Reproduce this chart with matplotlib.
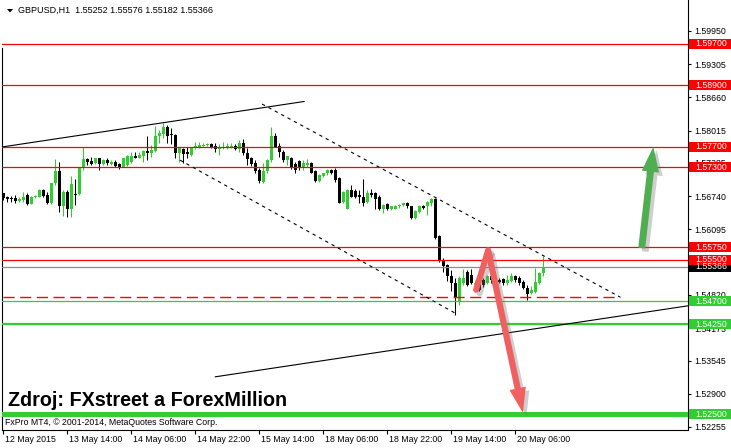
import matplotlib
matplotlib.use("Agg")
import matplotlib.pyplot as plt
import matplotlib.transforms as mtransforms
import matplotlib.patheffects as pe
from matplotlib.patches import Rectangle, Polygon
import numpy as np

plt.rcParams['font.family'] = ['Liberation Sans', 'DejaVu Sans']

# ---------------- data (GBPUSD H1) ----------------
opens = [
    1.5680, 1.5672, 1.5669, 1.5671, 1.5665, 1.5667, 1.5676, 1.5659, 1.5672, 1.5673,
    1.5686, 1.5676, 1.5660, 1.5699, 1.5723, 1.5655, 1.5683, 1.5649, 1.5679, 1.5678,
    1.5728, 1.5746, 1.5743, 1.5738, 1.5748, 1.5737, 1.5744, 1.5737, 1.5741, 1.5737,
    1.5731, 1.5735, 1.5741, 1.5752, 1.5749, 1.5752, 1.5762, 1.5757, 1.5762, 1.5790,
    1.5795, 1.5808, 1.5793, 1.5793, 1.5757, 1.5765, 1.5759, 1.5754, 1.5767, 1.5769,
    1.5772, 1.5773, 1.5775, 1.5772, 1.5765, 1.5767, 1.5767, 1.5769, 1.5772, 1.5765,
    1.5777, 1.5757, 1.5748, 1.5738, 1.5724, 1.5702, 1.5722, 1.5744, 1.5790, 1.5772,
    1.5760, 1.5744, 1.5748, 1.5737, 1.5743, 1.5730, 1.5735, 1.5739, 1.5722, 1.5704,
    1.5713, 1.5719, 1.5725, 1.5724, 1.5709, 1.5663, 1.5650, 1.5686, 1.5685, 1.5676,
    1.5673, 1.5663, 1.5681, 1.5680, 1.5673, 1.5649, 1.5659, 1.5649, 1.5650, 1.5654,
    1.5657, 1.5661, 1.5654, 1.5631, 1.5644, 1.5655, 1.5654, 1.5661, 1.5668, 1.5597,
    1.5550, 1.5540, 1.5518, 1.5506, 1.5469, 1.5505, 1.5526, 1.5521, 1.5501, 1.5508,
    1.5511, 1.5505, 1.5518, 1.5515, 1.5511, 1.5513, 1.5505, 1.5510, 1.5518, 1.5515,
    1.5508, 1.5495, 1.5485, 1.5488, 1.5505, 1.55252,
]
highs = [
    1.5681, 1.5674, 1.5674, 1.5676, 1.5672, 1.5683, 1.5680, 1.5674, 1.5676, 1.5687,
    1.5687, 1.5683, 1.5700, 1.5746, 1.5741, 1.5686, 1.5686, 1.5713, 1.5707, 1.5729,
    1.5769, 1.5749, 1.5751, 1.5749, 1.5749, 1.5746, 1.5748, 1.5744, 1.5744, 1.5739,
    1.5749, 1.5754, 1.5759, 1.5760, 1.5759, 1.5764, 1.5790, 1.5774, 1.5810, 1.5803,
    1.5817, 1.5812, 1.5806, 1.5795, 1.5769, 1.5767, 1.5769, 1.5770, 1.5779, 1.5780,
    1.5778, 1.5778, 1.5777, 1.5777, 1.5775, 1.5779, 1.5777, 1.5777, 1.5775, 1.5783,
    1.5785, 1.5767, 1.5751, 1.5744, 1.5728, 1.5738, 1.5746, 1.5809, 1.5797, 1.5777,
    1.5764, 1.5753, 1.5751, 1.5741, 1.5744, 1.5744, 1.5746, 1.5741, 1.5725, 1.5717,
    1.5720, 1.5726, 1.5726, 1.5728, 1.5712, 1.5685, 1.5688, 1.5696, 1.5687, 1.5686,
    1.5707, 1.5686, 1.5687, 1.5683, 1.5676, 1.5659, 1.5660, 1.5655, 1.5656, 1.5659,
    1.5661, 1.5663, 1.5655, 1.5647, 1.5657, 1.5657, 1.5665, 1.5670, 1.5670, 1.5599,
    1.5553, 1.5542, 1.5531, 1.5515, 1.5518, 1.5532, 1.5530, 1.5532, 1.5511, 1.5511,
    1.5515, 1.5521, 1.5519, 1.5518, 1.5515, 1.5515, 1.5521, 1.5524, 1.5521, 1.5518,
    1.5511, 1.5501, 1.5499, 1.5534, 1.5527, 1.55576,
]
lows = [
    1.5667, 1.5663, 1.5663, 1.5661, 1.5663, 1.5663, 1.5657, 1.5658, 1.5670, 1.5672,
    1.5673, 1.5659, 1.5659, 1.5696, 1.5644, 1.5636, 1.5633, 1.5633, 1.5657, 1.5676,
    1.5725, 1.5735, 1.5735, 1.5737, 1.5725, 1.5735, 1.5735, 1.5735, 1.5731, 1.5726,
    1.5730, 1.5733, 1.5738, 1.5748, 1.5748, 1.5741, 1.5744, 1.5751, 1.5760, 1.5777,
    1.5787, 1.5777, 1.5775, 1.5748, 1.5741, 1.5738, 1.5748, 1.5752, 1.5765, 1.5767,
    1.5770, 1.5772, 1.5768, 1.5760, 1.5754, 1.5765, 1.5765, 1.5767, 1.5764, 1.5760,
    1.5754, 1.5735, 1.5733, 1.5720, 1.5700, 1.5700, 1.5719, 1.5741, 1.5769, 1.5751,
    1.5741, 1.5735, 1.5726, 1.5719, 1.5725, 1.5725, 1.5730, 1.5719, 1.5702, 1.5702,
    1.5712, 1.5715, 1.5717, 1.5702, 1.5660, 1.5660, 1.5649, 1.5672, 1.5670, 1.5661,
    1.5655, 1.5661, 1.5672, 1.5650, 1.5647, 1.5641, 1.5647, 1.5647, 1.5649, 1.5652,
    1.5655, 1.5652, 1.5629, 1.5629, 1.5642, 1.5649, 1.5637, 1.5654, 1.5590, 1.5547,
    1.5527, 1.5510, 1.5489, 1.5443, 1.5463, 1.5501, 1.5499, 1.5503, 1.5490, 1.5490,
    1.5498, 1.5503, 1.5505, 1.5501, 1.5505, 1.5501, 1.5501, 1.5508, 1.5508, 1.5501,
    1.5493, 1.5472, 1.5484, 1.5485, 1.5503, 1.55182,
]
closes = [
    1.5670, 1.5668, 1.5668, 1.5665, 1.5669, 1.5672, 1.5658, 1.5673, 1.5674, 1.5686,
    1.5674, 1.5660, 1.5699, 1.5723, 1.5655, 1.5683, 1.5649, 1.5698, 1.5677, 1.5728,
    1.5746, 1.5740, 1.5737, 1.5748, 1.5737, 1.5744, 1.5738, 1.5741, 1.5733, 1.5730,
    1.5748, 1.5752, 1.5752, 1.5749, 1.5755, 1.5762, 1.5757, 1.5764, 1.5791, 1.5797,
    1.5809, 1.5791, 1.5792, 1.5757, 1.5767, 1.5756, 1.5756, 1.5769, 1.5772, 1.5774,
    1.5774, 1.5774, 1.5770, 1.5765, 1.5769, 1.5769, 1.5772, 1.5772, 1.5765, 1.5777,
    1.5757, 1.5746, 1.5737, 1.5722, 1.5704, 1.5722, 1.5744, 1.5790, 1.5770, 1.5760,
    1.5744, 1.5752, 1.5730, 1.5725, 1.5728, 1.5738, 1.5739, 1.5720, 1.5704, 1.5715,
    1.5719, 1.5725, 1.5719, 1.5705, 1.5661, 1.5683, 1.5686, 1.5673, 1.5673, 1.5672,
    1.5660, 1.5680, 1.5676, 1.5668, 1.5650, 1.5657, 1.5649, 1.5654, 1.5655, 1.5657,
    1.5660, 1.5654, 1.5631, 1.5646, 1.5655, 1.5652, 1.5663, 1.5668, 1.5592, 1.5550,
    1.5538, 1.5518, 1.5506, 1.5478, 1.5515, 1.5515, 1.5501, 1.5505, 1.5506, 1.5492,
    1.5501, 1.5518, 1.5511, 1.5508, 1.5508, 1.5505, 1.5511, 1.5518, 1.5511, 1.5505,
    1.5495, 1.5484, 1.5492, 1.5508, 1.5524, 1.55366,
]

time_labels = ["12 May 2015", "13 May 14:00", "14 May 06:00", "14 May 22:00",
               "15 May 14:00", "18 May 06:00", "18 May 22:00", "19 May 14:00",
               "20 May 06:00"]
time_label_bars = [0, 16, 32, 48, 64, 80, 96, 112, 128]

price_ticks = [1.59950, 1.59305, 1.58660, 1.58015, 1.57385, 1.56740, 1.56095,
               1.55450, 1.54820, 1.54175, 1.53545, 1.52900, 1.52255]
hidden_ticks = [1.55450]   # covered by the price boxes in the reference

red_levels = [1.5970, 1.5890, 1.5770, 1.5730, 1.5575, 1.5550]
green_levels = [1.5470, 1.5425, 1.5250]
current_price = 1.55366
dashed_level = 1.5478

# trend lines: (bar, price) pairs
upper_solid = [(0.0, 1.5770), (75.2, 1.5858)]
upper_dashed = [(64.7, 1.5853), (154.2, 1.5478)]
lower_dashed = [(44.2, 1.5744), (112.9, 1.5447)]
lower_solid = [(53.0, 1.5323), (171.2, 1.5461)]

green_arrow = [(159.6, 1.5573), (162.5, 1.5770)]        # tail, tip
red_arrow = [(118.2, 1.5492), (121.2, 1.5569), (129.9, 1.5253)]  # start, peak, tip

# ---------------- figure ----------------
W, H = 731, 448
fig = plt.figure(figsize=(W / 100, H / 100), dpi=100)
fig.patch.set_facecolor('white')

GREEN = '#32cd32'
RED = '#ff0000'

y_top = 1.605524
px_price = 1.0 / 5146.0
y_bot = y_top - 430 * px_price

ax = fig.add_axes([2 / W, (H - 430) / H, 686 / W, 430 / H])
ax.set_facecolor('white')
ax.set_xlim((2 - 3.3) / 4, (688 - 3.3) / 4)
ax.set_ylim(y_bot, y_top)

o = np.array(opens); h = np.array(highs); l = np.array(lows); c = np.array(closes)
x = np.arange(len(o))
up = c > o
cols = [GREEN if u else 'black' for u in up]
ax.vlines(x, l, h, colors=cols, linewidth=0.75, zorder=2)
body_b = np.minimum(o, c)
body_h = np.maximum(np.abs(c - o), px_price * 1.0)
ax.bar(x, body_h, bottom=body_b, width=0.75, color=cols, linewidth=0, zorder=2)

# horizontal levels
for lv in red_levels:
    ax.axhline(lv, color=RED, lw=0.9, zorder=3)
ax.axhline(current_price, color='#8c8c8c', lw=0.9, zorder=3)
ax.axhline(green_levels[0], color=GREEN, lw=0.9, zorder=3)
ax.axhline(green_levels[1], color=GREEN, lw=1.6, zorder=3)
ax.axhline(green_levels[2], color=GREEN, lw=3.6, zorder=3)
ax.plot([0, upper_dashed[1][0]], [dashed_level, dashed_level], color=RED, lw=1.0,
        dashes=(8, 4), zorder=3)

# trend lines
for seg in [upper_solid, lower_solid]:
    ax.plot([p[0] for p in seg], [p[1] for p in seg], color='black', lw=0.8, zorder=3)
for seg in [upper_dashed, lower_dashed]:
    ax.plot([p[0] for p in seg], [p[1] for p in seg], color='black', lw=0.8,
            dashes=(3, 3.5), zorder=3)

# arrows
shadow_patch = [pe.SimplePatchShadow(offset=(2.5, -2.5), shadow_rgbFace='0.45', alpha=0.35), pe.Normal()]
ga = ax.annotate('', xy=green_arrow[1], xytext=green_arrow[0],
                 arrowprops=dict(arrowstyle='simple,head_length=1.8,head_width=1.25,tail_width=0.5',
                                 fc='#4fae4f', ec='none', mutation_scale=10,
                                 shrinkA=0, shrinkB=0), zorder=6)
ga.arrow_patch.set_path_effects(shadow_patch)

ax.plot([red_arrow[0][0], red_arrow[1][0]], [red_arrow[0][1], red_arrow[1][1]],
        color='#f06060', lw=4.3, solid_capstyle='round', zorder=6,
        path_effects=[pe.SimpleLineShadow(offset=(2.5, -2.5), shadow_color='0.45', alpha=0.35), pe.Normal()])
ra = ax.annotate('', xy=red_arrow[2], xytext=red_arrow[1],
                 arrowprops=dict(arrowstyle='simple,head_length=1.8,head_width=1.2,tail_width=0.45',
                                 fc='#f06060', ec='none', mutation_scale=10,
                                 shrinkA=0, shrinkB=0), zorder=6)
ra.arrow_patch.set_path_effects(shadow_patch)

# spines and ticks
ax.spines['top'].set_visible(False)
for s in ['left', 'right', 'bottom']:
    ax.spines[s].set_linewidth(0.8)
    ax.spines[s].set_color('black')
ax.spines['left'].set_bounds(y_bot, y_top - 48 * px_price)

ax.yaxis.tick_right()
ax.set_yticks(price_ticks)
ax.set_yticklabels(['' if v in hidden_ticks else f"{v:.5f}" for v in price_ticks])
ax.tick_params(axis='y', direction='out', length=2.5, width=0.8, pad=2.2,
               labelsize=6.3, colors='black')
ax.set_xticks(time_label_bars)
ax.set_xticklabels(time_labels)
ax.tick_params(axis='x', direction='out', length=3, width=0.8, pad=0.8,
               labelsize=6.3, colors='black')
off = mtransforms.ScaledTranslation(1.5 / 72, 0, fig.dpi_scale_trans)
for lab in ax.get_xticklabels():
    lab.set_horizontalalignment('left')
    lab.set_transform(lab.get_transform() + off)

# level label boxes on the price scale
btrans = mtransforms.blended_transform_factory(ax.transAxes, ax.transData)
x0 = (689 - 2) / 686
x1 = (731 - 2) / 686
hh = 5 * px_price
boxes = [(current_price, 'black')] + [(v, RED) for v in red_levels] + [(v, GREEN) for v in green_levels]
for val, fc in boxes:
    ax.add_patch(Rectangle((x0, val - hh), x1 - x0, 2 * hh, transform=btrans,
                           facecolor=fc, edgecolor='none', clip_on=False, zorder=7))
    ax.text((695 - 2) / 686, val, f"{val:.5f}", transform=btrans, color='white',
            fontsize=6.3, va='center', ha='left', clip_on=False, zorder=8)

# texts
fig.add_artist(Polygon([[7 / W, 1 - 9 / H], [13 / W, 1 - 9 / H], [10 / W, 1 - 12.5 / H]],
                       closed=True, transform=fig.transFigure, facecolor='black',
                       edgecolor='none'))
fig.text(18 / W, 1 - 10.5 / H, "GBPUSD,H1  1.55252 1.55576 1.55182 1.55366",
         fontsize=6.5, va='center', ha='left', color='black')
fig.text(5 / W, 1 - 422 / H, "FxPro MT4, \u00a9 2001-2014, MetaQuotes Software Corp.",
         fontsize=6.3, va='center', ha='left', color='black')
fig.text(8 / W, 1 - 400 / H, "Zdroj: FXstreet a ForexMillion", fontsize=14.2,
         fontweight='bold', va='center', ha='left', color='black')

fig.savefig('out.png', dpi=100, facecolor='white')
